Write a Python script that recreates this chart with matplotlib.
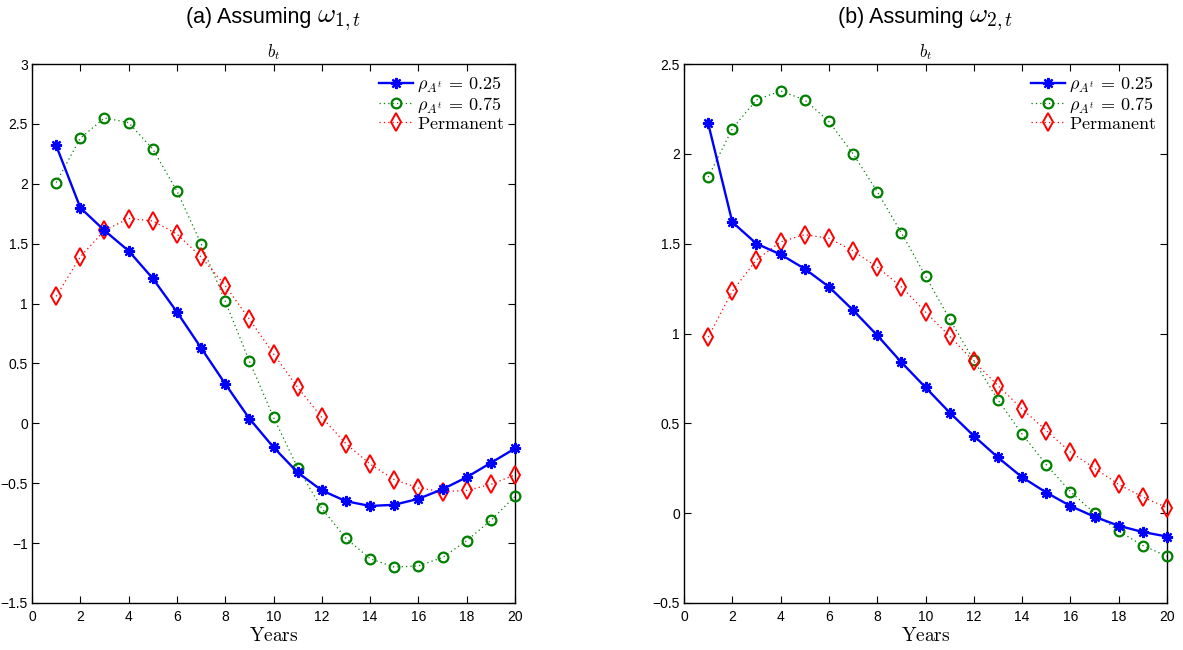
import matplotlib
matplotlib.use("Agg")
import matplotlib.pyplot as plt
from matplotlib.ticker import FuncFormatter, MultipleLocator
from matplotlib.offsetbox import TextArea, HPacker, AnnotationBbox

plt.rcParams["mathtext.fontset"] = "cm"
plt.rcParams["font.family"] = ["Liberation Sans Narrow", "Liberation Sans", "DejaVu Sans"]

years = list(range(1, 21))

# Panel (a): assuming omega_{1,t}
a_rho025 = [2.32, 1.80, 1.61, 1.44, 1.21, 0.93, 0.63, 0.33, 0.04, -0.20,
            -0.41, -0.56, -0.65, -0.69, -0.68, -0.63, -0.55, -0.45, -0.33, -0.21]
a_rho075 = [2.01, 2.38, 2.55, 2.51, 2.29, 1.94, 1.50, 1.02, 0.52, 0.05,
            -0.37, -0.71, -0.96, -1.13, -1.20, -1.19, -1.12, -0.98, -0.81, -0.61]
a_perm = [1.06, 1.39, 1.61, 1.71, 1.69, 1.58, 1.39, 1.15, 0.87, 0.58,
          0.30, 0.05, -0.17, -0.34, -0.47, -0.54, -0.57, -0.56, -0.51, -0.43]

# Panel (b): assuming omega_{2,t}
b_rho025 = [2.17, 1.62, 1.50, 1.44, 1.36, 1.26, 1.13, 0.99, 0.84, 0.70,
            0.56, 0.43, 0.31, 0.20, 0.115, 0.04, -0.02, -0.07, -0.105, -0.13]
b_rho075 = [1.87, 2.14, 2.30, 2.35, 2.30, 2.18, 2.00, 1.79, 1.56, 1.32,
            1.08, 0.85, 0.63, 0.44, 0.27, 0.12, 0.00, -0.10, -0.18, -0.24]
b_perm = [0.98, 1.235, 1.41, 1.51, 1.55, 1.53, 1.46, 1.37, 1.26, 1.12,
          0.985, 0.845, 0.71, 0.58, 0.46, 0.34, 0.25, 0.16, 0.09, 0.03]

title_text = ["(a) Assuming", "(b) Assuming"]
title_math = [r"$\omega_{1,t}$", r"$\omega_{2,t}$"]
labels = [r"$\rho_{A^t}\,=\,0.25$", r"$\rho_{A^t}\,=\,0.75$", r"$\mathrm{Permanent}$"]
ylims = [(-1.5, 3.0), (-0.5, 2.5)]

W, H = 1183, 650
fig = plt.figure(figsize=(W / 100, H / 100), dpi=100)
boxes = [(32, 515), (684, 1167)]
top, bottom = 64, 603

panels = [(a_rho025, a_rho075, a_perm), (b_rho025, b_rho075, b_perm)]

fmt = FuncFormatter(lambda v, p: ("%g" % v).replace("-", "\u2212"))
asterisk = (8, 2, 0)

for i, ((x0, x1), (s1, s2, s3)) in enumerate(zip(boxes, panels)):
    ax = fig.add_axes([x0 / W, (H - bottom) / H, (x1 - x0) / W, (bottom - top) / H])
    ax.plot(years, s1, color="#0000ff", lw=1.7, marker=asterisk, ms=8, mew=1.6,
            label=labels[0], clip_on=False, zorder=4)
    ax.plot(years, s2, color="#008000", lw=0.9, ls=(0, (1, 2.5)), marker="o", ms=7,
            mfc="none", mew=1.6, label=labels[1], clip_on=False, zorder=3)
    ax.plot(years, s3, color="#ff0000", lw=0.9, ls=(0, (1, 2.5)), marker="d", ms=9,
            mfc="none", mew=1.4, label=labels[2], clip_on=False, zorder=3)
    ax.set_xlim(0, 20)
    ax.set_ylim(*ylims[i])
    ax.xaxis.set_major_locator(MultipleLocator(2))
    ax.yaxis.set_major_locator(MultipleLocator(0.5))
    ax.xaxis.set_major_formatter(fmt)
    ax.yaxis.set_major_formatter(fmt)
    ax.tick_params(direction="in", length=5, width=0.8, top=True, right=True,
                   labelsize=10, pad=3)
    ax.tick_params(axis="x", pad=5)
    for sp in ax.spines.values():
        sp.set_linewidth(1.0)
    ax.set_xlabel(r"$\mathrm{Years}$", fontsize=14, labelpad=2)
    ax.set_title(r"$b_t$", fontsize=12, pad=5)

    # Panel heading: sans text followed by a larger math symbol
    part1 = TextArea(title_text[i] + " ",
                     textprops=dict(fontsize=15.5, family=["Liberation Sans", "DejaVu Sans"]))
    part2 = TextArea(title_math[i], textprops=dict(fontsize=20))
    pack = HPacker(children=[part1, part2], align="baseline", pad=0, sep=0)
    ab = AnnotationBbox(pack, ((x0 + x1) / 2 / W, 1 - 18 / H), xycoords="figure fraction",
                        frameon=False, box_alignment=(0.5, 0.5), pad=0)
    fig.add_artist(ab)

    ax.legend(loc="upper right", frameon=False, fontsize=13, handlelength=1.9,
              handletextpad=0.2, labelspacing=0.05, borderaxespad=0.45,
              borderpad=0.15)

fig.savefig("out.png", dpi=100)
